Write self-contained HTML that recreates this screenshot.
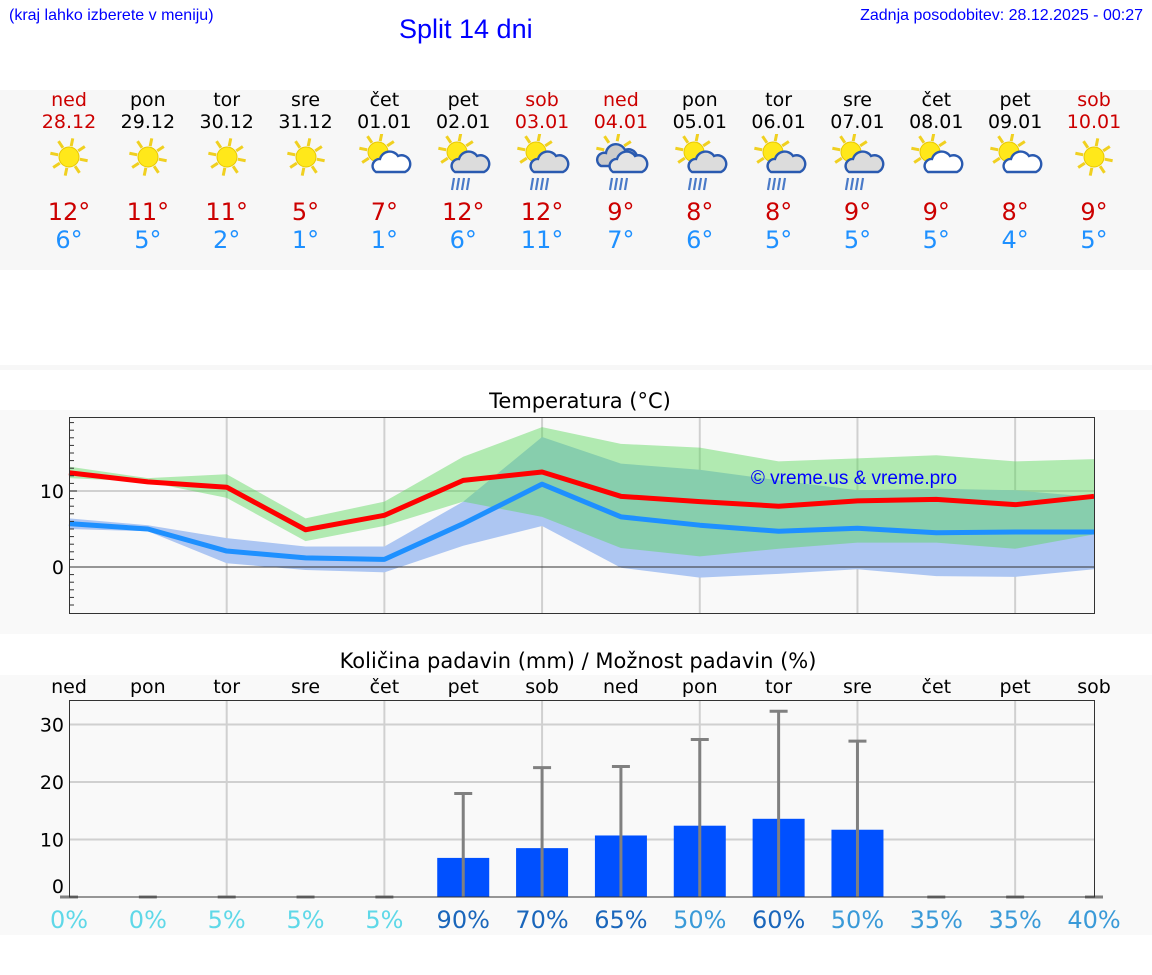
<!DOCTYPE html>
<html><head><meta charset="utf-8">
<style>
body{margin:0;width:1152px;height:975px;background:#fff;font-family:"DejaVu Sans","Liberation Sans",sans-serif;position:relative;overflow:hidden}
.abs{position:absolute}
.c{position:absolute;text-align:center;width:80px;margin-left:-40px}
</style></head>
<body>
<div class="abs" style="left:9px;top:7px;font-size:16px;color:#00f;font-family:'Liberation Sans',sans-serif">(kraj lahko izberete v meniju)</div>
<div class="abs" style="left:399px;top:14px;font-size:27px;color:#00f;font-family:'Liberation Sans',sans-serif">Split 14 dni</div>
<div class="abs" style="right:9px;top:7px;font-size:16px;color:#00f;font-family:'Liberation Sans',sans-serif">Zadnja posodobitev: 28.12.2025 - 00:27</div>
<div class="abs" style="left:0;top:90px;width:1152px;height:180px;background:#f7f7f7"></div>
<div class="abs" style="left:0;top:365px;width:1152px;height:5px;background:#f7f7f7"></div>
<div id="days"></div>
<svg id="chart" class="abs" style="left:0;top:0" width="1152" height="975"></svg>
<script>
const names=["ned","pon","tor","sre","čet","pet","sob","ned","pon","tor","sre","čet","pet","sob"];
const dates=["28.12","29.12","30.12","31.12","01.01","02.01","03.01","04.01","05.01","06.01","07.01","08.01","09.01","10.01"];
const tmaxDay=[12,11,11,5,7,12,12,9,8,8,9,9,8,9];
const tminDay=[6,5,2,1,1,6,11,7,6,5,5,5,4,5];
const icons=["s","s","s","s","sc","scr","scr","cr","scr","scr","scr","sc","sc","s"];
const maxLine=[12.4,11.2,10.5,4.9,6.8,11.4,12.5,9.3,8.6,8.0,8.7,8.9,8.2,9.3];
const minLine=[5.7,5.0,2.1,1.2,1.0,5.7,10.9,6.6,5.5,4.7,5.1,4.5,4.6,4.6];
const maxUp=[13.2,11.7,12.2,6.4,8.6,14.5,18.4,16.2,15.7,13.9,14.3,14.7,13.9,14.2];
const maxLo=[11.7,11.2,9.1,3.4,5.4,8.6,6.6,2.5,1.4,2.4,3.2,3.2,2.4,4.3];
const minUp=[6.4,5.5,3.8,2.7,2.7,8.6,17.1,13.6,12.8,11.4,10.1,10.3,10.1,9.2];
const minLo=[5.0,4.7,0.5,-0.4,-0.7,2.8,5.4,-0.1,-1.4,-0.9,-0.3,-1.2,-1.3,-0.3];
const precip=[0,0,0,0,0,6.8,8.5,10.7,12.4,13.6,11.7,0,0,0];
const precipMax=[0,0,0,0,0,18,22.5,22.7,27.4,32.3,27.1,0,0,0];
const prob=[0,0,5,5,5,90,70,65,50,60,50,35,35,40];
const tTicks=[0,10];const pTicks=[0,10,20,30];

const X=i=>69+i*(1025/13);
const TY=v=>567-v*7.6;
const PY=v=>897-v*5.75;
const NS="http://www.w3.org/2000/svg";
const svg=document.getElementById('chart');
function el(t,a,p){const e=document.createElementNS(NS,t);for(const k in a)e.setAttribute(k,a[k]);(p||svg).appendChild(e);return e;}

const dc=document.getElementById('days');
function icon(type,cx){
  let s='<svg width="60" height="60" viewBox="0 0 60 60" style="position:absolute;left:'+(cx-30)+'px;top:134px">';
  const sunX=type=="s"?30:24, sunY=type=="s"?23:18;
  for(let k=0;k<8;k++){const a=k*Math.PI/4+0.2;s+='<line x1="'+(sunX+Math.cos(a)*11)+'" y1="'+(sunY+Math.sin(a)*11)+'" x2="'+(sunX+Math.cos(a)*19)+'" y2="'+(sunY+Math.sin(a)*19)+'" stroke="#f0d020" stroke-width="3"/>';}
  if(type!="cr") s+='<circle cx="'+sunX+'" cy="'+sunY+'" r="10" fill="#ffe81a" stroke="#e8c800"/>';
  if(type=="cr") s+='<path d="M10 32 a7 7 0 0 1 5-13 a10 10 0 0 1 19-3 a7 7 0 0 1 7 16 z" fill="#ccc" stroke="#2a5ab0" stroke-width="2.4"/>';
  if(type!="s"){
    const fill=type=="cr"?"#e4e4e4":(type=="scr"?"#dcdcdc":"#fff");
    s+='<path d="M22 38 a7 7 0 0 1 4-13 a10 10 0 0 1 18-3 a7 7 0 0 1 7 16 z" fill="'+fill+'" stroke="#2a5ab0" stroke-width="2.4"/>';
  }
  if(type=="scr"||type=="cr"){for(let k=0;k<4;k++)s+='<line x1="'+(21+k*5)+'" y1="44" x2="'+(19+k*5)+'" y2="56" stroke="#4a7ac8" stroke-width="2.2"/>';}
  return s+'</svg>';
}
for(let i=0;i<14;i++){
  const cx=X(i); const we=(names[i]=="ned"||names[i]=="sob");
  const d=document.createElement('div');
  
  
  d.innerHTML='<div class="c" style="left:'+cx+'px;top:89px;font-size:19px;color:'+(we?'#c00':'#000')+'">'+names[i]+'</div>'+
  '<div class="c" style="left:'+cx+'px;top:111px;font-size:19px;color:'+(we?'#c00':'#000')+'">'+dates[i]+'</div>'+
  icon(icons[i],cx)+
  '<div class="c" style="left:'+cx+'px;top:198px;font-size:24px;color:#c00">'+tmaxDay[i]+'°</div>'+
  '<div class="c" style="left:'+cx+'px;top:226px;font-size:24px;color:#1e90ff">'+tminDay[i]+'°</div>';
  dc.appendChild(d);
}

el('rect',{x:0,y:410,width:1152,height:224,fill:'#f9f9f9'});
let t=el('text',{x:580,y:408,'font-size':21,'text-anchor':'middle',fill:'#000'});t.textContent='Temperatura (°C)';


for(let i=2;i<13;i+=2){el('line',{x1:X(i),x2:X(i),y1:417,y2:613,stroke:'#d0d0d0','stroke-width':2});}
el('line',{x1:69,x2:1094,y1:TY(10),y2:TY(10),stroke:'#d0d0d0','stroke-width':2});
function band(up,lo,fill,name){
  let d='M'+up.map((v,i)=>X(i)+','+TY(v)).join('L');
  for(let i=lo.length-1;i>=0;i--)d+='L'+X(i)+','+TY(lo[i]);
  const p=el('path',{d:d+'Z',fill:fill});
  
  
}
band(minUp,minLo,'#adc6f2','min-temp-range');
band(maxUp,maxLo,'rgba(89,214,89,0.45)','max-temp-range');
el('line',{x1:69,x2:1094,y1:TY(0),y2:TY(0),stroke:'#333','stroke-width':1});
function line(arr,col,name){const p=el('polyline',{points:arr.map((v,i)=>X(i)+','+TY(v)).join(' '),fill:'none',stroke:col,'stroke-width':5,'stroke-linejoin':'round'});
  
  }
line(minLine,'#1e90ff','min-temp-line');
line(maxLine,'#ff0000','max-temp-line');
el('rect',{x:69.5,y:417.5,width:1025,height:196,fill:'none',stroke:'#333'});
for(let v=-5;v<=19;v++){el('line',{x1:69,x2:v%10==0?77:74,y1:TY(v),y2:TY(v),stroke:'#333'});}
tTicks.forEach(v=>{const tx=el('text',{x:64,y:TY(v)+7,'font-size':19,'text-anchor':'end'});tx.textContent=v;
  
  });
const wm=el('text',{x:854,y:484,'font-size':19,'text-anchor':'middle',fill:'#00f','font-family':'Liberation Sans, sans-serif'});wm.textContent='© vreme.us & vreme.pro';



el('rect',{x:0,y:675,width:1152,height:260,fill:'#f9f9f9'});
t=el('text',{x:578,y:668,'font-size':21,'text-anchor':'middle',fill:'#000'});t.textContent='Količina padavin (mm) / Možnost padavin (%)';


for(let i=0;i<14;i++){const tx=el('text',{x:X(i),y:693,'font-size':19,'text-anchor':'middle'});tx.textContent=names[i];
  
  }
for(let i=2;i<13;i+=2){el('line',{x1:X(i),x2:X(i),y1:700,y2:897,stroke:'#d0d0d0','stroke-width':2});}
[10,20,30].forEach(v=>el('line',{x1:69,x2:1094,y1:PY(v),y2:PY(v),stroke:'#d0d0d0','stroke-width':2}));
for(let i=0;i<14;i++){
  if(precip[i]>0){const b=el('rect',{x:X(i)-26,y:PY(precip[i]),width:52,height:897-PY(precip[i]),fill:'#0050ff'});
    
    }
  if(precipMax[i]>0){el('line',{x1:X(i),x2:X(i),y1:PY(precipMax[i]),y2:897,stroke:'#808080','stroke-width':3});
    el('line',{x1:X(i)-9,x2:X(i)+9,y1:PY(precipMax[i]),y2:PY(precipMax[i]),stroke:'#808080','stroke-width':3});}
  else el('line',{x1:X(i)-9,x2:X(i)+9,y1:897,y2:897,stroke:'#808080','stroke-width':3});
  const pc=prob[i]>=60?'#1a66bb':(prob[i]>=35?'#3a9ad8':'#5fd8e8');
  const tx=el('text',{x:X(i),y:928,'font-size':24,'text-anchor':'middle',fill:pc});tx.textContent=prob[i]+'%';
  
  
}
el('rect',{x:69.5,y:700.5,width:1025,height:196.5,fill:'none',stroke:'#333'});
pTicks.forEach(v=>{const tx=el('text',{x:64,y:PY(v)+7-(v==0?11:0),'font-size':19,'text-anchor':'end'});tx.textContent=v;
  
  });
</script>
</body></html>
